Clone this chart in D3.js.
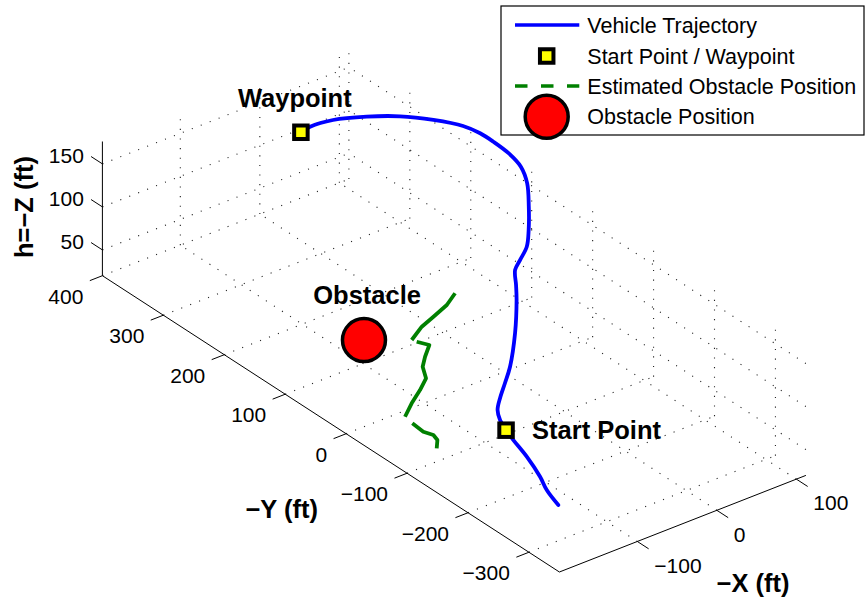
<!DOCTYPE html>
<html>
<head>
<meta charset="utf-8">
<script src="https://cdn.jsdelivr.net/npm/d3@7"></script>
<style>
  body { margin: 0; background: #fff; }
  text { font-family: "Liberation Sans", Arial, Helvetica, sans-serif; fill: #000; }
</style>
</head>
<body>
<svg id="chart" width="866" height="607"></svg>
<script>
// ---- axis extents and ticks (ft) ----
const xDomain = [-198, 112];
const yDomain = [-350, 400];
const zDomain = [20, 176];
const xTicks = [-100, 0, 100];
const yTicks = [-300, -200, -100, 0, 100, 200, 300, 400];
const zTicks = [50, 100, 150];

// ---- vehicle trajectory: -X, -Y, h=-Z (ft) ----
const trajX = [-117.9, -110.9, -103.2, -93.5, -88.1, -85, -81.6, -75.6, -65.3, -51.7, -36.4, -8.3,
  18.2, 27.7, 36.7, 44.3, 55.3, 64.5, 79.3, 97, 105.8, 108.3, 108.2, 108, 103.4, 87.5, 66.8,
  41.3, 11.9, -13.1, -25];
const trajY = [-243.7, -215.6, -194.6, -160.1, -131.1, -115, -100.7, -88.8, -79.5, -69.8, -58.1, -29.7,
  2.4, 15.7, 29, 30.8, 34.1, 43, 62.1, 87.9, 109.7, 133.1, 157.9, 179.4, 201.4, 229.3, 257.1,
  278.5, 295.4, 300.4, 300];
const trajZ = [20, 22, 25, 29, 33, 36, 40, 44, 50, 58, 66, 82,
  96, 104, 112, 120, 130, 142, 155, 164, 170, 174, 176, 176, 176, 176, 175,
  174, 173, 172, 170];

// ---- start point, waypoint, obstacle ----
const startPoint = [-85, -115, 36];
const waypoint = [-25, 300, 170];
const obstacle = [-102, 96, 50];

// ---- estimated obstacle position (null = no estimate) ----
const estX = [-175.9, -165.3, -162.4, -166.3, -164.7, null,
  -162.5, -141.1, -118.5, -99.6, -88.2, -74.3, -56.7, -62.7, null,
  -64.5, -40.5, -19.3, 5.3, 26];
const estY = [-119.8, -107.1, -96.7, -85.3, -65.2, null,
  -50.3, -33.3, -17.5, -2.7, 17.7, 31.9, 47.8, 60.8, null,
  66.6, 81.4, 89.9, 100.1, 113.5];
const estZ = [50, 50, 50, 50, 50, null,
  50, 50, 50, 50, 50, 50, 50, 50, null,
  50, 50, 50, 50, 50];

// ---- legend entries ----
const legendLabels = ["Vehicle Trajectory", "Start Point / Waypoint",
  "Estimated Obstacle Position", "Obstacle Position"];

// ---- 3D axes: each data axis is scaled to [0,1] and mapped onto a projected edge of the box ----
const xS = d3.scaleLinear().domain(xDomain).range([0, 1]);
const yS = d3.scaleLinear().domain(yDomain).range([0, 1]);
const zS = d3.scaleLinear().domain(zDomain).range([0, 1]);

const corner = [559.4, 572];        // (xmin, ymin, zmin) on screen
const ex = [246.5, -96.6];          // full x edge
const ey = [-457.0, -296.3];        // full y edge
const ez = [0, -134.2];             // full z edge

function project(x, y, z) {
  const u = xS(x), v = yS(y), w = zS(z);
  return [corner[0] + u * ex[0] + v * ey[0] + w * ez[0],
          corner[1] + u * ex[1] + v * ey[1] + w * ez[1]];
}

const svg = d3.select("#chart");
const line = d3.line();
const [x0, x1] = xDomain, [y0, y1] = yDomain, [z0, z1] = zDomain;

// ---- dotted grid on floor and the two back walls ----
const gridSegs = [];
xTicks.forEach(t => {
  gridSegs.push([[t, y0, z0], [t, y1, z0]]);   // floor
  gridSegs.push([[t, y1, z0], [t, y1, z1]]);   // back wall y = ymax
});
yTicks.forEach(t => {
  gridSegs.push([[x0, t, z0], [x1, t, z0]]);   // floor
  gridSegs.push([[x1, t, z0], [x1, t, z1]]);   // back wall x = xmax
});
zTicks.forEach(t => {
  gridSegs.push([[x0, y1, t], [x1, y1, t]]);
  gridSegs.push([[x1, y0, t], [x1, y1, t]]);
});
svg.append("g")
  .selectAll("path").data(gridSegs).join("path")
  .attr("d", s => line(s.map(p => project(...p))))
  .attr("fill", "none").attr("stroke", "#222").attr("stroke-width", 1.1)
  .attr("stroke-dasharray", "1.1,8.5");

// ---- axis lines ----
const axisSegs = [
  [[x0, y0, z0], [x1, y0, z0]],
  [[x0, y0, z0], [x0, y1, z0]],
  [[x0, y1, z0], [x0, y1, z1]]
];
svg.append("g")
  .selectAll("path").data(axisSegs).join("path")
  .attr("d", s => line(s.map(p => project(...p))))
  .attr("fill", "none").attr("stroke", "#000").attr("stroke-width", 1);

// tick marks point outward, along the projected direction of the neighbouring axis
function unitDir(a, b) {
  const p = project(...a), q = project(...b);
  const dx = q[0] - p[0], dy = q[1] - p[1], L = Math.hypot(dx, dy);
  return [dx / L, dy / L];
}
const tickLen = 13.5;
const dX = unitDir([0, 0, z0], [0, -1, z0]);   // x ticks: toward -y
const dY = unitDir([0, 0, z0], [-1, 0, z0]);   // y ticks: toward -x
const dZ = unitDir([0, 0, z0], [0, 1, z0]);    // z ticks: toward +y

const tickG = svg.append("g").attr("stroke", "#000").attr("stroke-width", 1);
const labelG = svg.append("g").style("font-size", "21px");
const fmt = v => (v < 0 ? "\u2212" + Math.abs(v) : String(v));

xTicks.forEach(t => {
  const p = project(t, y0, z0);
  tickG.append("line").attr("x1", p[0]).attr("y1", p[1])
    .attr("x2", p[0] + dX[0] * tickLen).attr("y2", p[1] + dX[1] * tickLen);
  labelG.append("text").attr("x", p[0] + 17).attr("y", p[1] + 24)
    .attr("dy", "0.35em").attr("text-anchor", "start").text(fmt(t));
});
yTicks.forEach(t => {
  const p = project(x0, t, z0);
  tickG.append("line").attr("x1", p[0]).attr("y1", p[1])
    .attr("x2", p[0] + dY[0] * tickLen).attr("y2", p[1] + dY[1] * tickLen);
  labelG.append("text").attr("x", p[0] - 19).attr("y", p[1] + 20.5)
    .attr("dy", "0.35em").attr("text-anchor", "end").text(fmt(t));
});
zTicks.forEach(t => {
  const p = project(x0, y1, t);
  tickG.append("line").attr("x1", p[0]).attr("y1", p[1])
    .attr("x2", p[0] + dZ[0] * tickLen).attr("y2", p[1] + dZ[1] * tickLen);
  labelG.append("text").attr("x", p[0] - 18.5).attr("y", p[1] - 8.5)
    .attr("dy", "0.35em").attr("text-anchor", "end").text(fmt(t));
});

// ---- axis titles ----
const titleG = svg.append("g").style("font-size", "25.5px").style("font-weight", "bold");
titleG.append("text").attr("x", 281.7).attr("y", 518.3).attr("text-anchor", "middle").text("\u2212Y (ft)");
titleG.append("text").attr("x", 753).attr("y", 591.7).attr("text-anchor", "middle").text("\u2212X (ft)");
titleG.append("text").attr("transform", "translate(33,207) rotate(-90)")
  .attr("text-anchor", "middle").text("h=\u2212Z (ft)");

// ---- vehicle trajectory ----
const traj = trajX.map((x, i) => project(x, trajY[i], trajZ[i]));
svg.append("path")
  .attr("d", d3.line().curve(d3.curveCatmullRom.alpha(0.5))(traj))
  .attr("fill", "none").attr("stroke", "#0000ff").attr("stroke-width", 3.8)
  .attr("stroke-linejoin", "round").attr("stroke-linecap", "round");

// ---- start point / waypoint markers ----
const sq = 13.5;
[startPoint, waypoint].forEach(pt => {
  const p = project(...pt);
  svg.append("rect").attr("x", p[0] - sq / 2).attr("y", p[1] - sq / 2)
    .attr("width", sq).attr("height", sq)
    .attr("fill", "#ffff00").attr("stroke", "#000").attr("stroke-width", 4);
});

// ---- estimated obstacle position ----
const est = estX.map((x, i) => x == null ? null : project(x, estY[i], estZ[i]));
svg.append("path")
  .attr("d", d3.line().defined(d => d != null)(est))
  .attr("fill", "none").attr("stroke", "#008000").attr("stroke-width", 3.8)
  .attr("stroke-linejoin", "round");

// ---- obstacle ----
const ob = project(...obstacle);
svg.append("circle").attr("cx", ob[0]).attr("cy", ob[1]).attr("r", 21.5)
  .attr("fill", "#ff0000").attr("stroke", "#000").attr("stroke-width", 3.5);

// ---- annotations ----
const noteG = svg.append("g").style("font-size", "25.5px").style("font-weight", "bold");
const wp = project(...waypoint), sp = project(...startPoint);
noteG.append("text").attr("x", wp[0] - 63).attr("y", wp[1] - 25).text("Waypoint");
noteG.append("text").attr("x", ob[0] - 50.7).attr("y", ob[1] - 36).text("Obstacle");
noteG.append("text").attr("x", sp[0] + 26).attr("y", sp[1] + 9.3).text("Start Point");

// ---- legend ----
const lg = svg.append("g");
lg.append("rect").attr("x", 501).attr("y", 6).attr("width", 363).attr("height", 129)
  .attr("fill", "#fff").attr("stroke", "#000").attr("stroke-width", 1.2);
const rowY = [25, 56, 86, 116.7];
lg.append("line").attr("x1", 515).attr("x2", 579.3).attr("y1", rowY[0]).attr("y2", rowY[0])
  .attr("stroke", "#0000ff").attr("stroke-width", 3.5);
lg.append("rect").attr("x", 546.7 - sq / 2).attr("y", rowY[1] - sq / 2).attr("width", sq).attr("height", sq)
  .attr("fill", "#ffff00").attr("stroke", "#000").attr("stroke-width", 4);
lg.append("line").attr("x1", 515).attr("x2", 579.3).attr("y1", rowY[2]).attr("y2", rowY[2])
  .attr("stroke", "#008000").attr("stroke-width", 3.5).attr("stroke-dasharray", "12.5,13.5");
lg.append("circle").attr("cx", 546.7).attr("cy", rowY[3]).attr("r", 21.5)
  .attr("fill", "#ff0000").attr("stroke", "#000").attr("stroke-width", 3.5);
lg.selectAll("text.lab").data(legendLabels).join("text").attr("class", "lab")
  .attr("x", 587.3).attr("y", (d, i) => rowY[i]).attr("dy", "0.35em")
  .style("font-size", "21.5px").text(d => d);
</script>
</body>
</html>
